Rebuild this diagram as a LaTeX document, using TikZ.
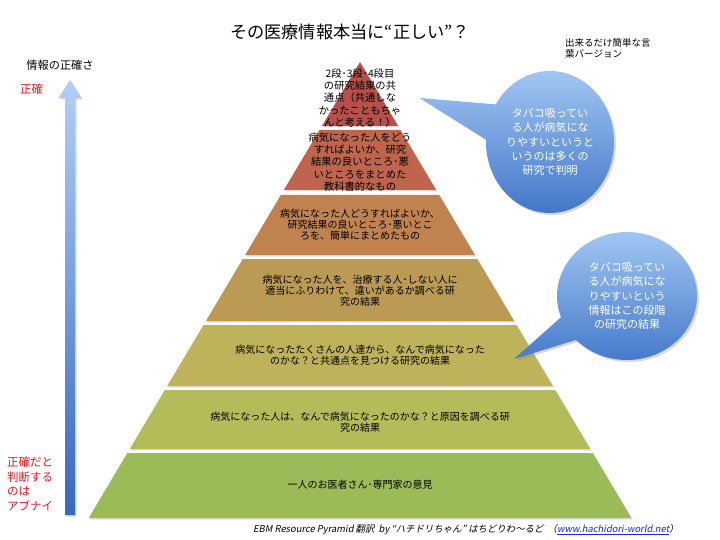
\documentclass[tikz,border=0pt]{standalone}
\usepackage{fontspec}
\setmainfont{Noto Sans CJK JP}
\newfontfamily\jpslant[FakeSlant=0.2]{Noto Sans CJK JP}
\usetikzlibrary{shapes.callouts,shadows}
\definecolor{layA}{RGB}{183,80,74}
\definecolor{layB}{RGB}{190,101,75}
\definecolor{layC}{RGB}{192,131,80}
\definecolor{layD}{RGB}{187,155,84}
\definecolor{layE}{RGB}{190,179,90}
\definecolor{layF}{RGB}{180,188,90}
\definecolor{layG}{RGB}{155,187,89}
\definecolor{bubtop}{RGB}{160,198,242}
\definecolor{bubbot}{RGB}{66,118,200}
\definecolor{arrtop}{RGB}{180,207,246}
\definecolor{arrbot}{RGB}{55,104,188}
\definecolor{alertred}{RGB}{235,20,30}
\definecolor{linkblue}{RGB}{20,40,220}
\def\pyrslope{0.595}
\newcommand\pyrlayer[3]{%
  \fill[#3, pyrshadow] ({360-\pyrslope*(#1-62)},#1) -- ({360+\pyrslope*(#1-62)},#1)
    -- ({360+\pyrslope*(#2-62)},#2) -- ({360-\pyrslope*(#2-62)},#2) -- cycle;}
\begin{document}
\begin{tikzpicture}[x=1pt,y=-1pt,
  pyrshadow/.style={drop shadow={shadow xshift=1.5pt,shadow yshift=-1.5pt,opacity=0.25}},
  lvtext/.style={align=center,inner sep=0pt,font=\fontsize{10}{11}\selectfont,text=black},
  lvtextb/.style={align=center,inner sep=0pt,font=\fontsize{10.3}{12.2}\selectfont,text=black},
  bubble/.style={ellipse callout,top color=bubtop,bottom color=bubbot,draw=none,
    inner sep=0pt,align=center,text=white,font=\fontsize{11}{14.4}\selectfont,
    drop shadow={shadow xshift=2pt,shadow yshift=-2pt,opacity=0.3}},
  redlabel/.style={text=alertred,inner sep=0pt,font=\fontsize{11.5}{14.5}\selectfont,align=left}]
\useasboundingbox (0,0) rectangle (720,540);
\fill[white] (0,0) rectangle (720,540);

% title
\node[inner sep=0pt,font=\fontsize{17.2}{19}\selectfont] (title) at (350,32) {その医療情報本当に“正しい”？};
\node[inner sep=0pt,anchor=north west,align=left,font=\fontsize{9.5}{11.5}\selectfont] (note) at (565,38) {出来るだけ簡単な言\\葉バージョン};

% axis
\node[inner sep=0pt,font=\fontsize{11.2}{13}\selectfont] (axislabel) at (60,65) {情報の正確さ};
\node[redlabel,anchor=west] (accurate) at (20,89) {正確};
\node[redlabel,anchor=north west] (danger) at (7,457) {正確だと\\判断する\\のは\\アブナイ};
\shade[top color=arrtop,bottom color=arrbot,drop shadow={shadow xshift=1.5pt,shadow yshift=-1.5pt,opacity=0.3}]
  (65,515) -- (65,98) -- (58.5,98) -- (70,80) -- (81.5,98) -- (75,98) -- (75,515) -- cycle;

% pyramid
\pyrlayer{62}{126}{layA}
\pyrlayer{130}{190}{layB}
\pyrlayer{195}{255}{layC}
\pyrlayer{259}{321}{layD}
\pyrlayer{325}{386}{layE}
\pyrlayer{390}{449}{layF}
\pyrlayer{453}{518}{layG}

\node[lvtextb] (l1) at (360,98) {2段･3段･4段目\\の研究結果の共\\通点（共通しな\\かったこともちゃ\\んと考える！）};
\node[lvtextb] (l2) at (360,162) {病気になった人をどう\\すればよいか、研究\\結果の良いところ･悪\\いところをまとめた\\教科書的なもの};
\node[lvtext] (l3) at (360,225) {病気になった人どうすればよいか、\\研究結果の良いところ･悪いとこ\\ろを、簡単にまとめたもの};
\node[lvtext] (l4) at (360,291) {病気になった人を、治療する人･しない人に\\適当にふりわけて、違いがあるか調べる研\\究の結果};
\node[lvtext] (l5) at (360,355) {病気になったたくさんの人達から、なんで病気になった\\のかな？と共通点を見つける研究の結果};
\node[lvtext] (l6) at (360,422) {病気になった人は、なんで病気になったのかな？と原因を調べる研\\究の結果};
\node[lvtext] (l7) at (360,485) {一人のお医者さん･専門家の意見};

% callouts
\coordinate (tipA) at (420,98);
\coordinate (tipB) at (514,359);
\node[bubble,minimum width=128pt,minimum height=142pt,callout absolute pointer={(tipA)},callout pointer arc=30] (bubA) at (550,142)
  {タバコ吸ってい\\る人が病気にな\\りやすいというと\\いうのは多くの\\研究で判明};
\node[bubble,minimum width=140pt,minimum height=128pt,callout absolute pointer={(tipB)},callout pointer arc=24] (bubB) at (627,296)
  {タバコ吸ってい\\る人が病気にな\\りやすいという\\情報はこの段階\\の研究の結果};

% footer
\node[inner sep=0pt,anchor=west,font=\jpslant\fontsize{9.4}{11}\selectfont] (footer) at (253,530)
  {EBM Resource Pyramid 翻訳\ \ by “ハチドリちゃん” はちどりわ～るど\ \ （\textcolor{linkblue}{\underline{www.hachidori-world.net}}）};
\end{tikzpicture}
\end{document}
